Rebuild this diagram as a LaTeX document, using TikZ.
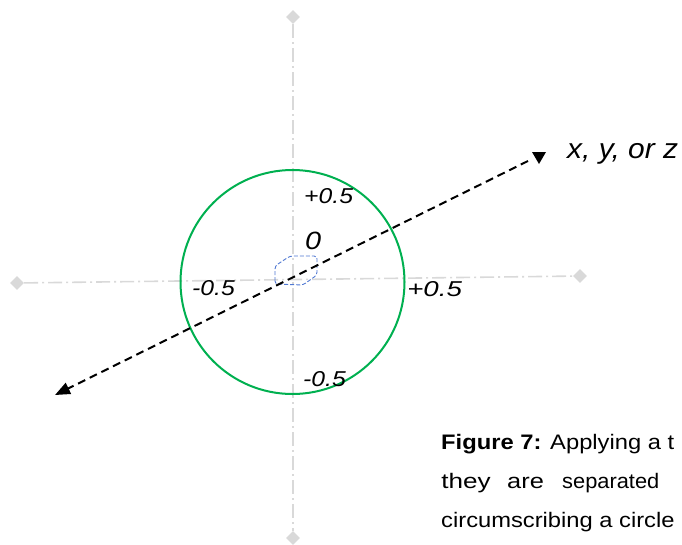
\documentclass[tikz,border=0pt]{standalone}
\usepackage{fontspec}
\setmainfont{Liberation Sans}
\usetikzlibrary{arrows.meta,shapes.geometric}
\definecolor{axisgray}{RGB}{217,217,217}
\definecolor{circgreen}{RGB}{0,176,80}
\definecolor{boxblue}{RGB}{80,120,210}
\begin{document}
\begin{tikzpicture}[x=1pt,y=-1pt,
  axisline/.style={draw=axisgray, line width=1.6pt, dash pattern=on 14pt off 4pt on 2pt off 4pt},
  endmark/.style={shape=diamond, fill=axisgray, draw=none, minimum width=14pt, minimum height=14pt, inner sep=0pt},
  lbl/.style={font=\fontsize{21.5}{21.5}\selectfont\itshape, inner sep=0pt, anchor=base west, xscale=1.15},
  captext/.style={font=\fontsize{21}{21}\selectfont, inner sep=0pt, anchor=base west, xscale=1.13}]
\useasboundingbox (0,0) rectangle (682,544);
\clip (0,0) rectangle (682,544);
% axes
\node[endmark] (top) at (293,17) {};
\node[endmark] (bot) at (293,538) {};
\node[endmark] (lft) at (17,283) {};
\node[endmark] (rgt) at (580,276) {};
\draw[axisline] (top) -- (bot);
\draw[axisline] (lft) -- (rgt);
% circle
\node[draw=circgreen, line width=2pt, circle, minimum size=224pt, inner sep=0pt] (circ) at (292.5,282) {};
% small blue box
\draw[boxblue, line width=0.9pt, dash pattern=on 4pt off 2pt, rounded corners=3pt]
  (275,284) -- (275,266) -- (290,256) -- (317,256) -- (317,275) -- (303,285) -- cycle;
% dashed arrow
\coordinate (a) at (55,395);
\coordinate (b) at (528,161);
\draw[line width=2pt, dash pattern=on 8pt off 5pt, -{Triangle[length=15pt,width=12pt]}] (b) -- (a);
\fill (532,152) -- (546,152) -- (539,164) -- cycle;
% labels
\node[lbl] (p1) at (304,203) {+0.5};
\node[lbl, font=\fontsize{25}{25}\selectfont\itshape] (z0) at (305,249) {0};
\node[lbl] (m1) at (192,295) {-0.5};
\node[lbl, xscale=1.12] (p2) at (407,296) {+0.5};
\node[lbl] (m2) at (303,386) {-0.5};
\node[lbl, font=\fontsize{28}{28}\selectfont\itshape, xscale=0.93] (xyz) at (567,158) {x, y, or z};
% caption
\node[captext] (c1a) at (441,449) {\textbf{Figure 7:}};
\node[captext] (c1b) at (550,449) {Applying a t};
\node[captext, xscale=1.1] (c2a) at (441,488) {they};
\node[captext, xscale=1.07] (c2b) at (507,488) {are};
\node[captext, xscale=0.92] (c2c) at (562,488) {separated};
\node[captext] (c3) at (441,527) {circumscribing a circle};
\end{tikzpicture}
\end{document}
